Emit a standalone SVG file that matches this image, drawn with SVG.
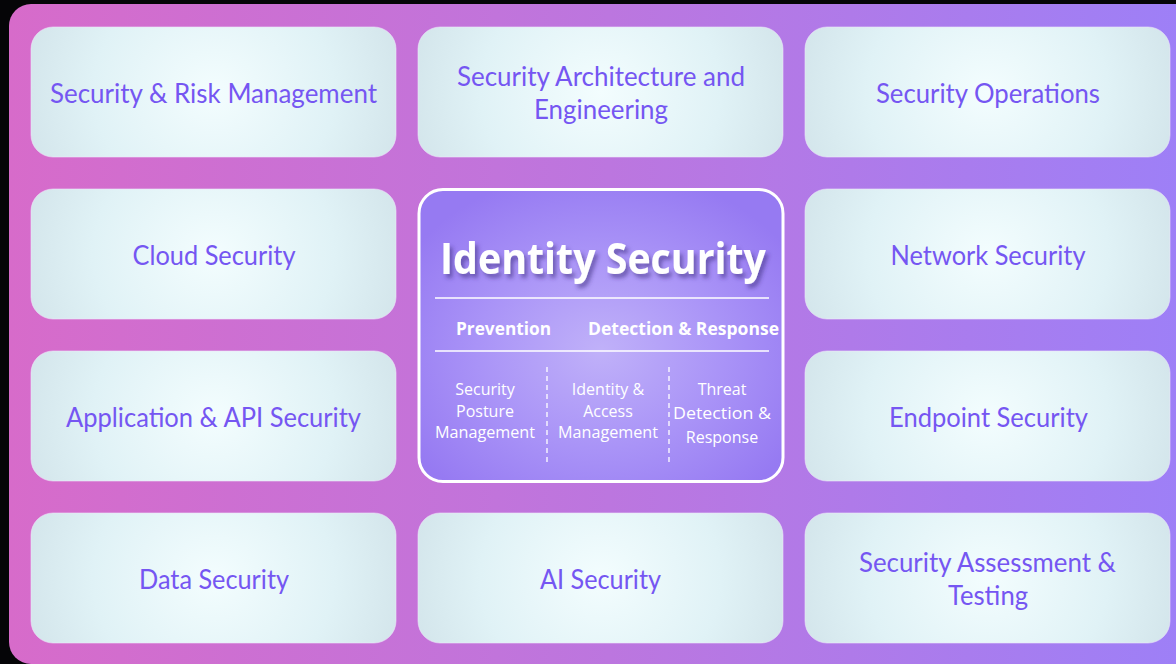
<svg xmlns="http://www.w3.org/2000/svg" width="1176" height="664" viewBox="0 0 1176 664">
  <defs>
    <linearGradient id="bg" x1="0" y1="0" x2="1" y2="0">
      <stop offset="0" stop-color="#D76BCA"/>
      <stop offset="0.5" stop-color="#BC76DF"/>
      <stop offset="1" stop-color="#9C80F8"/>
    </linearGradient>
    <radialGradient id="tile" cx="0.5" cy="0.5" r="0.55" gradientTransform="translate(0.5 0.5) scale(1 2.6) translate(-0.5 -0.5)" fx="0.5" fy="0.5">
      <stop offset="0" stop-color="#F3FDFE"/>
      <stop offset="0.6" stop-color="#E0F2F6"/>
      <stop offset="1" stop-color="#D2E4EA"/>
    </radialGradient>
    <radialGradient id="core" cx="0.5" cy="0.55" r="0.62">
      <stop offset="0" stop-color="#C0B1F9"/>
      <stop offset="0.55" stop-color="#A993F7"/>
      <stop offset="1" stop-color="#967AF2"/>
    </radialGradient>
    <filter id="shadow" x="-10%" y="-30%" width="130%" height="180%">
      <feGaussianBlur in="SourceAlpha" stdDeviation="2.2"/>
      <feOffset dx="3" dy="4" result="b"/>
      <feFlood flood-color="#3A2A7A" flood-opacity="0.55"/>
      <feComposite in2="b" operator="in"/>
      <feMerge><feMergeNode/><feMergeNode in="SourceGraphic"/></feMerge>
    </filter>
  </defs>
  <style>
    .tile { fill: url(#tile); stroke: #EFE6FA; stroke-width: 1; stroke-opacity: 0.6; }
    .lbl { font-family: Lato, "Open Sans", "Liberation Sans", sans-serif; font-size: 26px; fill: #7556F2; text-anchor: middle; }
    .title { font-family: "Open Sans", "Noto Sans", "Liberation Sans", sans-serif; font-size: 43px; font-weight: 700; fill: #FFFFFF; text-anchor: middle; }
    .hdr { font-family: "Open Sans", "Noto Sans", "Liberation Sans", sans-serif; font-size: 17px; font-weight: 700; fill: #FFFFFF; }
    .sub { font-family: "Open Sans", "Noto Sans", "Liberation Sans", sans-serif; font-size: 16px; fill: #FFFFFF; text-anchor: middle; }
    .rule { stroke: #FFFFFF; stroke-width: 1.3; }
    .dash { stroke: #FFFFFF; stroke-width: 1.3; stroke-dasharray: 5 4; }
  </style>
  <rect x="0" y="0" width="1176" height="664" fill="#050507"/>
  <rect x="9" y="4" width="1200" height="660" rx="22" fill="url(#bg)"/>

  <g id="security-risk-management">
    <rect class="tile" x="31" y="27" width="365" height="130" rx="22"/>
    <text class="lbl" x="213.5" y="103" textLength="327" lengthAdjust="spacingAndGlyphs">Security &amp; Risk Management</text>
  </g>
  <g id="security-architecture">
    <rect class="tile" x="418" y="27" width="365" height="130" rx="22"/>
    <text class="lbl" x="601" y="86" textLength="288" lengthAdjust="spacingAndGlyphs">Security Architecture and</text>
    <text class="lbl" x="601" y="119" textLength="134" lengthAdjust="spacingAndGlyphs">Engineering</text>
  </g>
  <g id="security-operations">
    <rect class="tile" x="805" y="27" width="365" height="130" rx="22"/>
    <text class="lbl" x="988" y="103" textLength="224" lengthAdjust="spacingAndGlyphs">Security Operations</text>
  </g>
  <g id="cloud-security">
    <rect class="tile" x="31" y="189" width="365" height="130" rx="22"/>
    <text class="lbl" x="214" y="265" textLength="163" lengthAdjust="spacingAndGlyphs">Cloud Security</text>
  </g>
  <g id="network-security">
    <rect class="tile" x="805" y="189" width="365" height="130" rx="22"/>
    <text class="lbl" x="988" y="265" textLength="195" lengthAdjust="spacingAndGlyphs">Network Security</text>
  </g>
  <g id="application-api-security">
    <rect class="tile" x="31" y="351" width="365" height="130" rx="22"/>
    <text class="lbl" x="213.5" y="427" textLength="295" lengthAdjust="spacingAndGlyphs">Application &amp; API Security</text>
  </g>
  <g id="endpoint-security">
    <rect class="tile" x="805" y="351" width="365" height="130" rx="22"/>
    <text class="lbl" x="988.5" y="427" textLength="199" lengthAdjust="spacingAndGlyphs">Endpoint Security</text>
  </g>
  <g id="data-security">
    <rect class="tile" x="31" y="513" width="365" height="130" rx="22"/>
    <text class="lbl" x="214" y="589" textLength="150" lengthAdjust="spacingAndGlyphs">Data Security</text>
  </g>
  <g id="ai-security">
    <rect class="tile" x="418" y="513" width="365" height="130" rx="22"/>
    <text class="lbl" x="600.5" y="589" textLength="121" lengthAdjust="spacingAndGlyphs">AI Security</text>
  </g>
  <g id="security-assessment-testing">
    <rect class="tile" x="805" y="513" width="365" height="130" rx="22"/>
    <text class="lbl" x="987.5" y="572" textLength="257" lengthAdjust="spacingAndGlyphs">Security Assessment &amp;</text>
    <text class="lbl" x="988" y="605" textLength="80" lengthAdjust="spacingAndGlyphs">Testing</text>
  </g>

  <g id="identity-security">
    <rect x="419" y="189.5" width="364" height="292" rx="24" fill="url(#core)" stroke="#FFFFFF" stroke-width="3"/>
    <text class="title" x="603" y="274" textLength="326" lengthAdjust="spacingAndGlyphs" filter="url(#shadow)">Identity Security</text>
    <line class="rule" x1="435" y1="298" x2="769" y2="298"/>
    <text class="hdr" x="456" y="335" textLength="95" lengthAdjust="spacingAndGlyphs">Prevention</text>
    <text class="hdr" x="588" y="335" textLength="191" lengthAdjust="spacingAndGlyphs">Detection &amp; Response</text>
    <line class="rule" x1="435" y1="351" x2="769" y2="351"/>
    <line class="dash" x1="547" y1="367" x2="547" y2="464"/>
    <line class="dash" x1="669" y1="367" x2="669" y2="464"/>
    <text class="sub" x="485" y="395">Security</text>
    <text class="sub" x="485" y="417">Posture</text>
    <text class="sub" x="485" y="438" textLength="100" lengthAdjust="spacingAndGlyphs">Management</text>
    <text class="sub" x="608" y="395">Identity &amp;</text>
    <text class="sub" x="608" y="417">Access</text>
    <text class="sub" x="608" y="438" textLength="100" lengthAdjust="spacingAndGlyphs">Management</text>
    <text class="sub" x="722" y="395">Threat</text>
    <text class="sub" x="722" y="419" textLength="98" lengthAdjust="spacingAndGlyphs">Detection &amp;</text>
    <text class="sub" x="722" y="443">Response</text>
  </g>
</svg>
